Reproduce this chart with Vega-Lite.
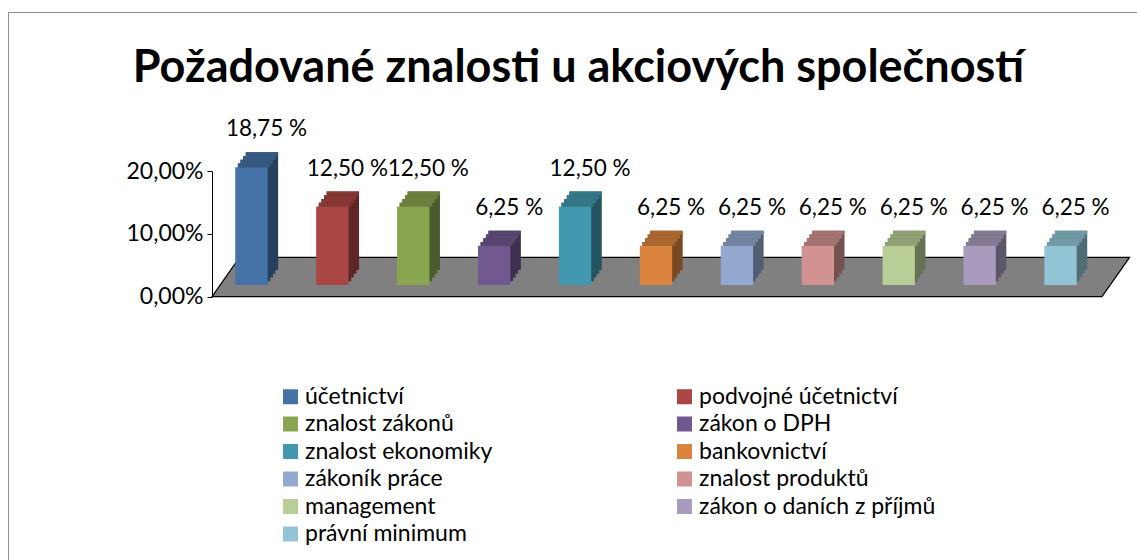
{
  "$schema": "https://vega.github.io/schema/vega-lite/v6.json",
  "autosize": {"type": "none"},
  "padding": {"left": 8, "top": 12, "right": 0, "bottom": 0},
  "width": 1135,
  "height": 552,
  "background": "white",
  "config": {
    "view": {"stroke": "#8c8c8c", "strokeWidth": 1},
    "font": "Lato",
    "text": {"font": "Lato"}
  },
  "title": {
    "text": "Požadované znalosti u akciových společností",
    "font": "Lato",
    "fontSize": 45,
    "fontWeight": "bold",
    "color": "black",
    "anchor": "middle",
    "frame": "group",
    "orient": "top",
    "baseline": "alphabetic",
    "offset": 0,
    "dy": 115,
    "dx": 3
  },
  "data": {
    "values": [
      {"kategorie": "účetnictví", "hodnota": 0.1875, "popisek": "18,75 %"},
      {"kategorie": "podvojné účetnictví", "hodnota": 0.125, "popisek": "12,50 %"},
      {"kategorie": "znalost zákonů", "hodnota": 0.125, "popisek": "12,50 %"},
      {"kategorie": "zákon o DPH", "hodnota": 0.0625, "popisek": "6,25 %"},
      {"kategorie": "znalost ekonomiky", "hodnota": 0.125, "popisek": "12,50 %"},
      {"kategorie": "bankovnictví", "hodnota": 0.0625, "popisek": "6,25 %"},
      {"kategorie": "zákoník práce", "hodnota": 0.0625, "popisek": "6,25 %"},
      {"kategorie": "znalost produktů", "hodnota": 0.0625, "popisek": "6,25 %"},
      {"kategorie": "management", "hodnota": 0.0625, "popisek": "6,25 %"},
      {"kategorie": "zákon o daních z příjmů", "hodnota": 0.0625, "popisek": "6,25 %"},
      {"kategorie": "právní minimum", "hodnota": 0.0625, "popisek": "6,25 %"}
    ]
  },
  "layer": [
    {
      "data": {"values": [
        {"okraj": "přední", "hloubka": 0, "levy": 0, "pravy": 1},
        {"okraj": "zadní", "hloubka": 1, "levy": 0.031, "pravy": 1.031}
      ]},
      "mark": {"type": "area", "orient": "horizontal", "color": "#808080", "stroke": "black", "strokeWidth": 1.2},
      "encoding": {
        "y": {"field": "hloubka", "type": "quantitative", "scale": {"domain": [0, 1], "range": [284.7, 245.3], "nice": false, "zero": false}, "axis": null},
        "x": {"field": "levy", "type": "quantitative", "scale": {"domain": [0, 1], "range": [204, 1094], "nice": false, "zero": false}, "axis": null},
        "x2": {"field": "pravy"}
      }
    },
    {
      "mark": {"type": "bar", "xOffset": 2.6, "yOffset": -3.75, "y2Offset": -3.75},
      "encoding": {
        "x": {"field": "kategorie", "type": "nominal", "sort": null, "scale": {"range": [203, 1093], "paddingInner": 0.6, "paddingOuter": 0.3}, "axis": null},
        "y": {"field": "hodnota", "type": "quantitative", "scale": {"domain": [0, 0.2], "range": [273, 147.4], "nice": false, "zero": false}, "axis": null},
        "color": {"field": "kategorie", "type": "nominal", "sort": null, "scale": {"range": ["#263F5C", "#5E2725", "#4B5B2B", "#3E304F", "#245460", "#784922", "#515D72", "#735150", "#667153", "#5D5568", "#506C75"]}, "legend": null}
      }
    },
    {
      "mark": {"type": "bar", "xOffset": 5.25, "yOffset": -7.5, "y2Offset": -7.5},
      "encoding": {
        "x": {"field": "kategorie", "type": "nominal", "sort": null, "scale": {"range": [203, 1093], "paddingInner": 0.6, "paddingOuter": 0.3}, "axis": null},
        "y": {"field": "hodnota", "type": "quantitative", "scale": {"domain": [0, 0.2], "range": [273, 147.4], "nice": false, "zero": false}, "axis": null},
        "color": {"field": "kategorie", "type": "nominal", "sort": null, "scale": {"range": ["#263F5C", "#5E2725", "#4B5B2B", "#3E304F", "#245460", "#784922", "#515D72", "#735150", "#667153", "#5D5568", "#506C75"]}, "legend": null}
      }
    },
    {
      "mark": {"type": "bar", "xOffset": 7.9, "yOffset": -11.25, "y2Offset": -11.25},
      "encoding": {
        "x": {"field": "kategorie", "type": "nominal", "sort": null, "scale": {"range": [203, 1093], "paddingInner": 0.6, "paddingOuter": 0.3}, "axis": null},
        "y": {"field": "hodnota", "type": "quantitative", "scale": {"domain": [0, 0.2], "range": [273, 147.4], "nice": false, "zero": false}, "axis": null},
        "color": {"field": "kategorie", "type": "nominal", "sort": null, "scale": {"range": ["#263F5C", "#5E2725", "#4B5B2B", "#3E304F", "#245460", "#784922", "#515D72", "#735150", "#667153", "#5D5568", "#506C75"]}, "legend": null}
      }
    },
    {
      "mark": {"type": "bar", "xOffset": 10.5, "yOffset": -15, "y2Offset": -15},
      "encoding": {
        "x": {"field": "kategorie", "type": "nominal", "sort": null, "scale": {"range": [203, 1093], "paddingInner": 0.6, "paddingOuter": 0.3}, "axis": null},
        "y": {"field": "hodnota", "type": "quantitative", "scale": {"domain": [0, 0.2], "range": [273, 147.4], "nice": false, "zero": false}, "axis": null},
        "color": {"field": "kategorie", "type": "nominal", "sort": null, "scale": {"range": ["#263F5C", "#5E2725", "#4B5B2B", "#3E304F", "#245460", "#784922", "#515D72", "#735150", "#667153", "#5D5568", "#506C75"]}, "legend": null}
      }
    },
    {
      "mark": {"type": "bar", "xOffset": 10.5, "yOffset": -15, "y2Offset": -11},
      "encoding": {
        "x": {"field": "kategorie", "type": "nominal", "sort": null, "scale": {"range": [203, 1093], "paddingInner": 0.6, "paddingOuter": 0.3}, "axis": null},
        "y": {"field": "hodnota", "type": "quantitative", "scale": {"domain": [0, 0.2], "range": [273, 147.4], "nice": false, "zero": false}, "axis": null},
        "y2": {"field": "hodnota"},
        "color": {"field": "kategorie", "type": "nominal", "sort": null, "scale": {"range": ["#365982", "#853734", "#6B813D", "#584570", "#337789", "#AB6730", "#7384A2", "#A37372", "#90A075", "#847993", "#7299A6"]}, "legend": null}
      }
    },
    {
      "mark": {"type": "bar", "xOffset": 7.9, "yOffset": -11.25, "y2Offset": -7.25},
      "encoding": {
        "x": {"field": "kategorie", "type": "nominal", "sort": null, "scale": {"range": [203, 1093], "paddingInner": 0.6, "paddingOuter": 0.3}, "axis": null},
        "y": {"field": "hodnota", "type": "quantitative", "scale": {"domain": [0, 0.2], "range": [273, 147.4], "nice": false, "zero": false}, "axis": null},
        "y2": {"field": "hodnota"},
        "color": {"field": "kategorie", "type": "nominal", "sort": null, "scale": {"range": ["#365982", "#853734", "#6B813D", "#584570", "#337789", "#AB6730", "#7384A2", "#A37372", "#90A075", "#847993", "#7299A6"]}, "legend": null}
      }
    },
    {
      "mark": {"type": "bar", "xOffset": 5.25, "yOffset": -7.5, "y2Offset": -3.5},
      "encoding": {
        "x": {"field": "kategorie", "type": "nominal", "sort": null, "scale": {"range": [203, 1093], "paddingInner": 0.6, "paddingOuter": 0.3}, "axis": null},
        "y": {"field": "hodnota", "type": "quantitative", "scale": {"domain": [0, 0.2], "range": [273, 147.4], "nice": false, "zero": false}, "axis": null},
        "y2": {"field": "hodnota"},
        "color": {"field": "kategorie", "type": "nominal", "sort": null, "scale": {"range": ["#365982", "#853734", "#6B813D", "#584570", "#337789", "#AB6730", "#7384A2", "#A37372", "#90A075", "#847993", "#7299A6"]}, "legend": null}
      }
    },
    {
      "mark": {"type": "bar", "xOffset": 2.6, "yOffset": -3.75, "y2Offset": 0},
      "encoding": {
        "x": {"field": "kategorie", "type": "nominal", "sort": null, "scale": {"range": [203, 1093], "paddingInner": 0.6, "paddingOuter": 0.3}, "axis": null},
        "y": {"field": "hodnota", "type": "quantitative", "scale": {"domain": [0, 0.2], "range": [273, 147.4], "nice": false, "zero": false}, "axis": null},
        "y2": {"field": "hodnota"},
        "color": {"field": "kategorie", "type": "nominal", "sort": null, "scale": {"range": ["#365982", "#853734", "#6B813D", "#584570", "#337789", "#AB6730", "#7384A2", "#A37372", "#90A075", "#847993", "#7299A6"]}, "legend": null}
      }
    },
    {
      "mark": {"type": "bar"},
      "encoding": {
        "x": {"field": "kategorie", "type": "nominal", "sort": null, "scale": {"range": [203, 1093], "paddingInner": 0.6, "paddingOuter": 0.3}, "axis": null},
        "y": {"field": "hodnota", "type": "quantitative", "scale": {"domain": [0, 0.2], "range": [273, 147.4], "nice": false, "zero": false}, "axis": null},
        "color": {
          "field": "kategorie", "type": "nominal", "sort": null,
          "scale": {"range": ["#4572A7", "#AA4643", "#89A54E", "#71588F", "#4198AF", "#DB843D", "#93A9CF", "#D19392", "#B9CD96", "#A99BBD", "#92C4D5"]},
          "legend": {
            "title": null,
            "orient": "none",
            "legendX": 271,
            "legendY": 373,
            "direction": "horizontal",
            "columns": 2,
            "columnPadding": 180,
            "rowPadding": 3.5,
            "padding": 0,
            "symbolType": "square",
            "symbolSize": 225,
            "symbolStrokeWidth": 0,
            "symbolOpacity": 1,
            "labelFont": "Lato",
            "labelFontSize": 23,
            "labelColor": "black",
            "labelOffset": 3,
            "labelLimit": 400
          }
        }
      }
    },
    {
      "mark": {"type": "text", "font": "Lato", "fontSize": 22.5, "color": "black", "baseline": "middle", "align": "center", "xOffset": 15, "yOffset": -38},
      "encoding": {
        "x": {"field": "kategorie", "type": "nominal", "sort": null, "scale": {"range": [203, 1093], "paddingInner": 0.6, "paddingOuter": 0.3}, "axis": null},
        "y": {"field": "hodnota", "type": "quantitative", "scale": {"domain": [0, 0.2], "range": [273, 147.4], "nice": false, "zero": false}, "axis": null},
        "text": {"field": "popisek"}
      }
    },
    {
      "mark": {"type": "point", "opacity": 0},
      "encoding": {
        "y": {
          "field": "hodnota", "type": "quantitative",
          "scale": {"domain": [0, 0.2], "range": [284.7, 159.1], "nice": false, "zero": false},
          "axis": {
            "orient": "left",
            "offset": -204,
            "values": [0, 0.1, 0.2],
            "labelExpr": "replace(format(datum.value, '.2%'), '.', ',')",
            "title": null,
            "grid": false,
            "labelFont": "Lato",
            "labelFontSize": 23,
            "labelColor": "black",
            "domainColor": "black",
            "tickColor": "black",
            "tickSize": 5,
            "labelPadding": 4
          }
        }
      }
    }
  ],
  "resolve": {"scale": {"x": "independent", "y": "independent", "color": "independent"}}
}
